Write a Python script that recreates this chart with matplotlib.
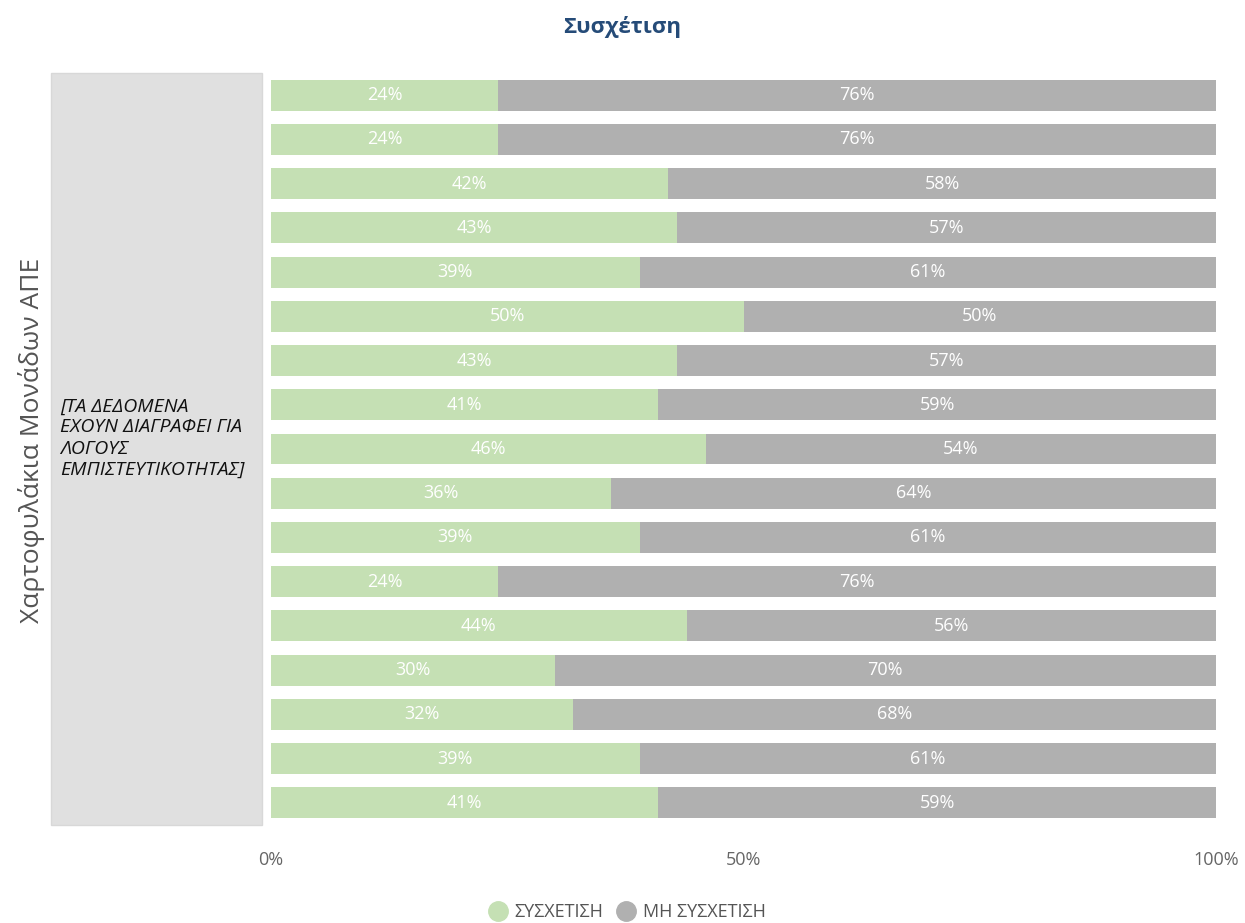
import matplotlib.pyplot as plt
from matplotlib.patches import Rectangle
from matplotlib.lines import Line2D

# --- Data ---
portfolios = [f"P{i + 1}" for i in range(17)]
corr = [24, 24, 42, 43, 39, 50, 43, 41, 46, 36, 39, 24, 44, 30, 32, 39, 41]
no_corr = [76, 76, 58, 57, 61, 50, 57, 59, 54, 64, 61, 76, 56, 70, 68, 61, 59]
series_names = ["ΣΥΣΧΕΤΙΣΗ", "ΜΗ ΣΥΣΧΕΤΙΣΗ"]
xticks = [0, 50, 100]
xtick_labels = ["0%", "50%", "100%"]

GREEN = "#c5e0b4"
GREY = "#b0b0b0"
TITLE_BLUE = "#254b78"

plt.rcParams['font.family'] = ['Open Sans', 'DejaVu Sans']

fig = plt.figure(figsize=(12.45, 9.23), dpi=100)
ax = fig.add_axes([271 / 1245, 1 - 825 / 923, (1216 - 271) / 1245, (825 - 73) / 923])

y = list(range(len(portfolios)))
ax.barh(y, corr, height=0.7, color=GREEN)
ax.barh(y, no_corr, left=corr, height=0.7, color=GREY)

# value labels in the middle of each segment
for yi, a, b in zip(y, corr, no_corr):
    ax.text(a / 2, yi, f"{a}%", ha="center", va="center", color="white", fontsize=13)
    ax.text(a + b / 2, yi, f"{b}%", ha="center", va="center", color="white", fontsize=13)

ax.set_xlim(0, 100)
ax.set_ylim(len(portfolios) - 0.5, -0.5)
ax.set_yticks([])
ax.set_xticks(xticks)
ax.set_xticklabels(xtick_labels, color="#666666", fontsize=13)
ax.tick_params(axis="x", length=0, pad=19)
for s in ax.spines.values():
    s.set_visible(False)

# grey category panel with the redacted-names note
fig.patches.append(Rectangle((51 / 1245, 1 - 825 / 923), (262 - 51) / 1245, (825 - 73) / 923,
                             transform=fig.transFigure, facecolor="#e0e0e0",
                             edgecolor="#d8d8d8", linewidth=1))
fig.text(60 / 1245, 1 - 438 / 923,
         "[ΤΑ ΔΕΔΟΜΕΝΑ\nΕΧΟΥΝ ΔΙΑΓΡΑΦΕΙ ΓΙΑ\nΛΟΓΟΥΣ\nΕΜΠΙΣΤΕΥΤΙΚΟΤΗΤΑΣ]",
         ha="left", va="center", fontsize=14, style="italic", color="#111111",
         linespacing=1.22)

fig.text(32 / 1245, 1 - 440 / 923, "Χαρτοφυλάκια Μονάδων ΑΠΕ", rotation=90,
         ha="center", va="center", fontsize=19, color="#555555")

fig.text(0.5, 1 - 27 / 923, "Συσχέτιση", ha="center", va="center",
         fontsize=16, fontweight="bold", color=TITLE_BLUE)

handles = [Line2D([], [], marker="o", linestyle="", markersize=14, color=c)
           for c in (GREEN, GREY)]
fig.legend(handles, series_names, loc="center", bbox_to_anchor=(0.5, 1 - 912 / 923),
           ncol=2, frameon=False, fontsize=13, handletextpad=-0.1, columnspacing=0.3,
           labelcolor="#555555")

fig.savefig("out.png", dpi=100)
